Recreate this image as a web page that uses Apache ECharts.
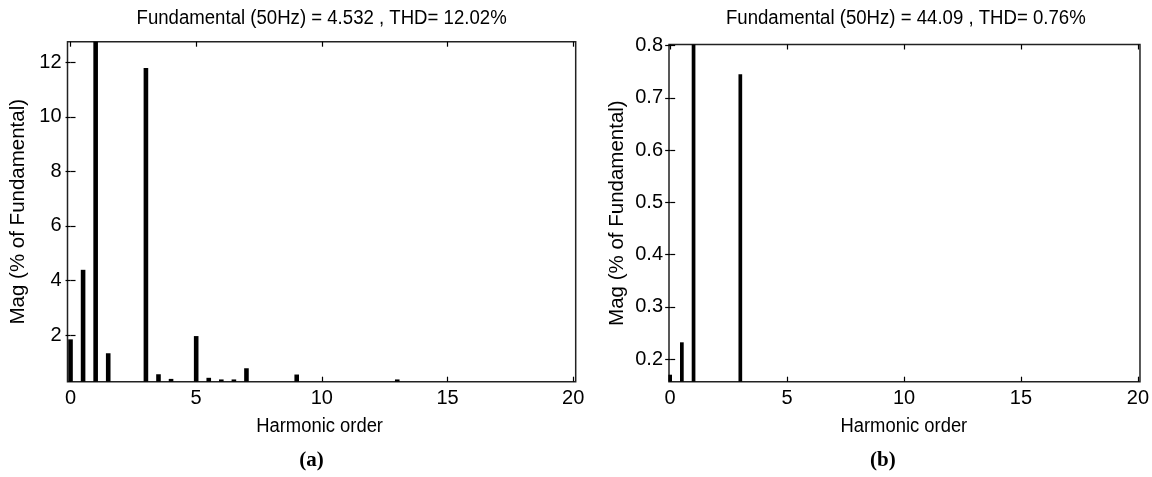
<!DOCTYPE html>
<html>
<head>
<meta charset="utf-8">
<script src="https://cdn.jsdelivr.net/npm/echarts@6/dist/echarts.min.js"></script>
<style>
html,body{margin:0;padding:0;background:#fff;}
#c{width:1152px;height:477px;}
</style>
</head>
<body>
<div id="c"></div>
<script>
// ---- data ----
const harmA = [0, 0.5, 1, 1.5, 3, 3.5, 4, 5, 5.5, 6, 6.5, 7, 9, 13];
const magA  = [1.84, 4.39, 100, 1.33, 11.79, 0.56, 0.39, 1.96, 0.43, 0.37, 0.37, 0.78, 0.55, 0.37];
const harmB = [0, 0.5, 1, 3];
const magB  = [0.17, 0.232, 100, 0.745];
const xTicks = [0, 5, 10, 15, 20];
const yTicksA = [2, 4, 6, 8, 10, 12];
const yTicksB = [0.2, 0.3, 0.4, 0.5, 0.6, 0.7, 0.8];
const titles = ['Fundamental (50Hz) = 4.532 , THD= 12.02%', 'Fundamental (50Hz) = 44.09 , THD= 0.76%'];
const captions = ['(a)', '(b)'];
const xName = 'Harmonic order';
const yName = 'Mag (% of Fundamental)';

const SANS = '"Liberation Sans", Arial, sans-serif';

const grids = [
  {left: 67.5, top: 41.7, width: 508.2, height: 340},
  {left: 669, top: 44.5, width: 473.7, height: 337.2}
];
const xRange = [[-0.12, 20.1], [-0.05, 20.09]];
const yRange = [[0.287, 12.755], [0.1566, 0.802]];
const yTicks = [yTicksA, yTicksB];

const tickStyle = {show: true, inside: true, length: 5, lineStyle: {color: '#000', width: 1.2}};

const xAxis = [], yAxis = [];
[0, 1].forEach(i => {
  xAxis.push({
    type: 'value', gridIndex: i, min: xRange[i][0], max: xRange[i][1], position: 'bottom',
    axisLine: {show: false}, splitLine: {show: false},
    axisTick: Object.assign({customValues: xTicks}, tickStyle),
    axisLabel: {customValues: xTicks, color: '#000', fontFamily: SANS, fontSize: 20, margin: 7}
  });
  xAxis.push({
    type: 'value', gridIndex: i, min: xRange[i][0], max: xRange[i][1], position: 'top',
    axisLine: {show: false}, splitLine: {show: false},
    axisTick: Object.assign({customValues: xTicks}, tickStyle),
    axisLabel: {show: false}
  });
  yAxis.push({
    type: 'value', gridIndex: i, min: yRange[i][0], max: yRange[i][1], position: 'left',
    axisLine: {show: false}, splitLine: {show: false},
    axisTick: Object.assign({customValues: yTicks[i]}, tickStyle),
    axisLabel: {customValues: yTicks[i], color: '#000', fontFamily: SANS, fontSize: 20, margin: 6},
    name: yName, nameLocation: 'middle', nameGap: i === 0 ? 39 : 41, nameRotate: 90,
    nameTextStyle: {color: '#000', fontFamily: SANS, fontSize: 20.5}
  });
  yAxis.push({
    type: 'value', gridIndex: i, min: yRange[i][0], max: yRange[i][1], position: 'right',
    axisLine: {show: false}, splitLine: {show: false},
    axisTick: Object.assign({customValues: yTicks[i]}, tickStyle),
    axisLabel: {show: false}
  });
});

const series = [
  {type: 'bar', xAxisIndex: 0, yAxisIndex: 0, barWidth: 4.6, clip: true,
   itemStyle: {color: '#000'}, data: harmA.map((h, k) => [h, magA[k]])},
  {type: 'bar', xAxisIndex: 2, yAxisIndex: 2, barWidth: 3.7, clip: true,
   itemStyle: {color: '#000'}, data: harmB.map((h, k) => [h, magB[k]])}
];

const captionShift = [-10, -23];
const graphic = [];
[0, 1].forEach(i => {
  const g = grids[i];
  const cx = g.left + g.width / 2;
  graphic.push({type: 'text', x: cx, y: 18, scaleX: 0.93, style: {text: titles[i], fill: '#000', font: '20px ' + SANS, align: 'center', verticalAlign: 'middle'}});
  graphic.push({type: 'text', x: cx - 2, y: 426, scaleX: 0.92, style: {text: xName, fill: '#000', font: '20px ' + SANS, align: 'center', verticalAlign: 'middle'}});
  graphic.push({type: 'text', x: cx + captionShift[i], y: 461, style: {text: captions[i], fill: '#000', font: 'bold 21px "Liberation Serif", "Times New Roman", serif', align: 'center', verticalAlign: 'middle'}});
});

const chart = echarts.init(document.getElementById('c'), null, {renderer: 'canvas'});
chart.setOption({
  animation: false,
  backgroundColor: '#fff',
  grid: grids.map(g => Object.assign({show: true, borderColor: '#222', borderWidth: 1.5, backgroundColor: 'transparent'}, g)),
  xAxis, yAxis, series, graphic
});
</script>
</body>
</html>
